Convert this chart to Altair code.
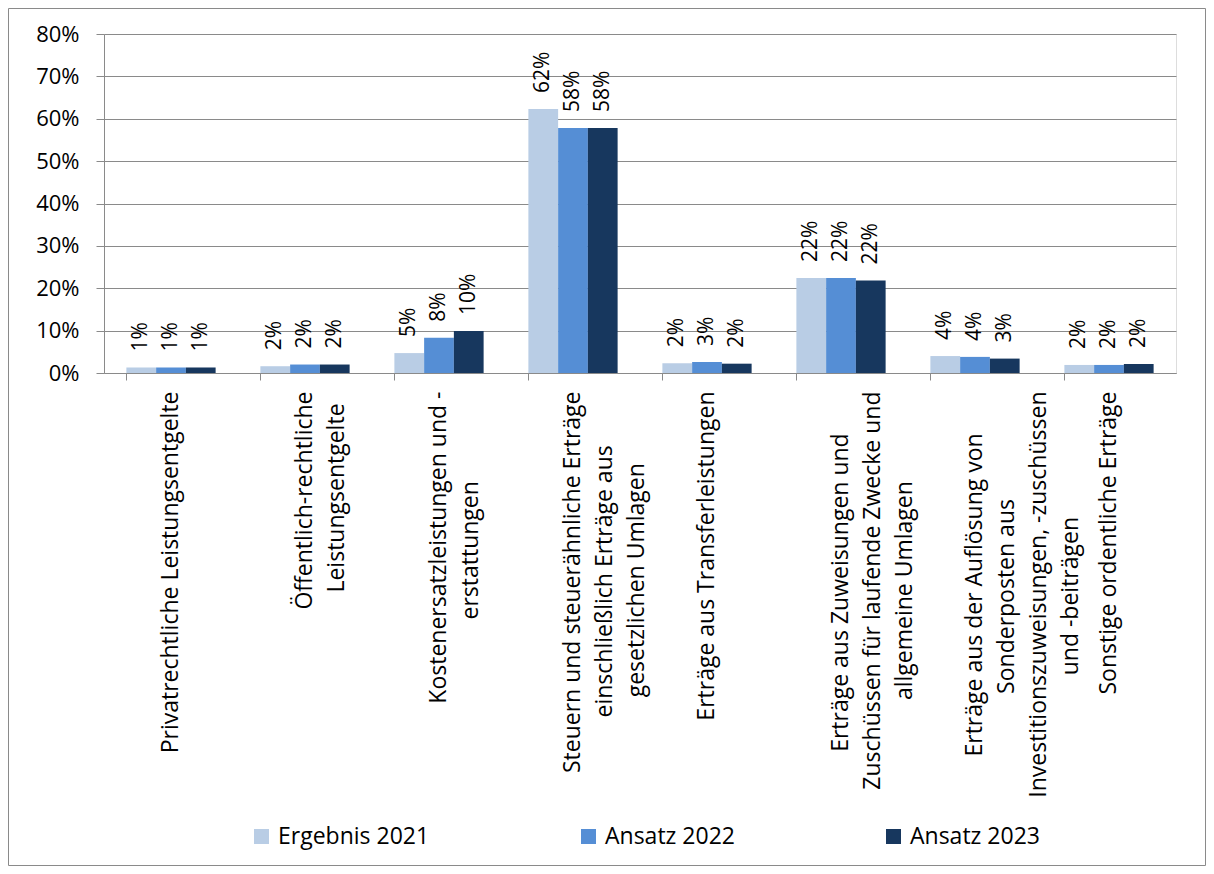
import altair as alt
import pandas as pd

# ---- data ----
categories = [
    ["Privatrechtliche Leistungsentgelte"],
    ["Öffentlich-rechtliche", "Leistungsentgelte"],
    ["Kostenersatzleistungen und -", "erstattungen"],
    ["Steuern und steuerähnliche Erträge", "einschließlich Erträge aus", "gesetzlichen Umlagen"],
    ["Erträge aus Transferleistungen"],
    ["Erträge aus Zuweisungen und", "Zuschüssen für laufende Zwecke und", "allgemeine Umlagen"],
    ["Erträge aus der Auflösung von", "Sonderposten aus", "Investitionszuweisungen, -zuschüssen", "und -beiträgen"],
    ["Sonstige ordentliche Erträge"],
]
series = ["Ergebnis 2021", "Ansatz 2022", "Ansatz 2023"]
ergebnis_2021 = [0.013, 0.016, 0.047, 0.623, 0.023, 0.224, 0.040, 0.019]
ansatz_2022 = [0.013, 0.020, 0.083, 0.578, 0.026, 0.224, 0.038, 0.019]
ansatz_2023 = [0.013, 0.020, 0.099, 0.578, 0.022, 0.218, 0.034, 0.021]
y_ticks = [0.0, 0.1, 0.2, 0.3, 0.4, 0.5, 0.6, 0.7, 0.8]
colors = ["#B9CDE5", "#558ED5", "#17375E"]

FONT = "Open Sans"
GRAY = "#8A8A8A"
XLAB_SIZE = 23

# approximate Open Sans advance widths (em) used to centre the lines of a
# multi-line category label within its block (as the reference does)
_W = {" ": .26, "-": .322, ",": .246, "A": .633, "E": .556, "I": .279, "K": .579,
      "L": .519, "P": .603, "S": .55, "U": .754, "Z": .561, "Ö": .779, "a": .556,
      "ä": .556, "b": .613, "c": .479, "d": .613, "e": .561, "f": .319, "g": .548,
      "h": .613, "i": .258, "l": .258, "m": .929, "n": .613, "o": .602, "ö": .602,
      "p": .613, "r": .411, "s": .479, "t": .343, "u": .613, "ü": .613, "v": .518,
      "w": .789, "z": .482, "ß": .631}


def _width(s):
    return sum(_W.get(ch, .56) for ch in s)


def _label(lines):
    widest = max(_width(l) for l in lines)
    out = []
    for l in lines:
        n = int(round((widest - _width(l)) / 2 / _W[" "]))
        # non-breaking spaces, closed by a zero-width char so they are not trimmed
        out.append(l + ("\u00a0" * n + "\u200b" if n > 0 else ""))
    return "|".join(out)


cat_keys = [_label(lines) for lines in categories]
rows = []
for i, key in enumerate(cat_keys):
    for s, vals in zip(series, [ergebnis_2021, ansatz_2022, ansatz_2023]):
        rows.append({"cat": key, "series": s, "value": vals[i]})
df = pd.DataFrame(rows)

W, H = 1072, 339

x_enc = alt.X(
    "cat:N",
    sort=cat_keys,
    title=None,
    scale=alt.Scale(domain=cat_keys, paddingInner=0.334, paddingOuter=0.167),
    axis=alt.Axis(
        labelAngle=270,
        labelAlign="right",
        labelBaseline="middle",
        labelExpr="split(datum.label, '|')",
        bandPosition=0,
        ticks=True,
        tickSize=7,
        tickColor=GRAY,
        domainColor=GRAY,
        labelFont=FONT,
        labelFontSize=XLAB_SIZE,
        labelLineHeight=32,
        labelPadding=11,
        labelLimit=600,
        labelColor="black",
        labelOverlap=False,
        grid=False,
    ),
)
y_enc = alt.Y(
    "value:Q",
    title=None,
    scale=alt.Scale(domain=[0, 0.8], nice=False),
    axis=alt.Axis(
        values=y_ticks,
        format=".0%",
        grid=True,
        gridColor=GRAY,
        domainColor=GRAY,
        tickColor=GRAY,
        tickSize=8,
        labelPadding=17,
        labelFont=FONT,
        labelFontSize=22,
        labelColor="black",
    ),
)
xoff = alt.XOffset(
    "series:N", sort=series,
    scale=alt.Scale(domain=series, paddingInner=0, paddingOuter=0),
)

bars = alt.Chart(df).mark_bar().encode(
    x=x_enc,
    y=y_enc,
    xOffset=xoff,
    color=alt.Color(
        "series:N",
        scale=alt.Scale(domain=series, range=colors),
        legend=alt.Legend(
            title=None,
            orient="none",
            legendX=146,
            legendY=791,
            direction="horizontal",
            columns=3,
            symbolType="square",
            symbolSize=225,
            symbolStrokeWidth=0,
            labelFont=FONT,
            labelFontSize=23,
            labelColor="black",
            labelOffset=5,
            columnPadding=147,
            gridAlign="none",
            padding=0,
        ),
    ),
)

labels = alt.Chart(df).mark_text(
    angle=270, align="left", baseline="middle", dx=16,
    font=FONT, fontSize=21, color="black",
).encode(
    x=x_enc,
    y=y_enc,
    xOffset=xoff,
    text=alt.Text("value:Q", format=".0%"),
)

border = alt.Chart(pd.DataFrame({"b": [0]})).mark_rect(
    fillOpacity=0, stroke=GRAY, strokeWidth=1
).encode(
    x=alt.value(-95.5), x2=alt.value(W + 29.5),
    y=alt.value(-25.5), y2=alt.value(H + 492.5),
)

chart = alt.layer(border, bars, labels).properties(
    width=W,
    height=H,
    autosize=alt.AutoSizeParams(type="none"),
    padding={"left": 96, "top": 26, "right": 30, "bottom": 493},
).configure_view(strokeWidth=0).configure(font=FONT)

chart.save("out.html", embed_options={"renderer": "svg", "actions": False})
